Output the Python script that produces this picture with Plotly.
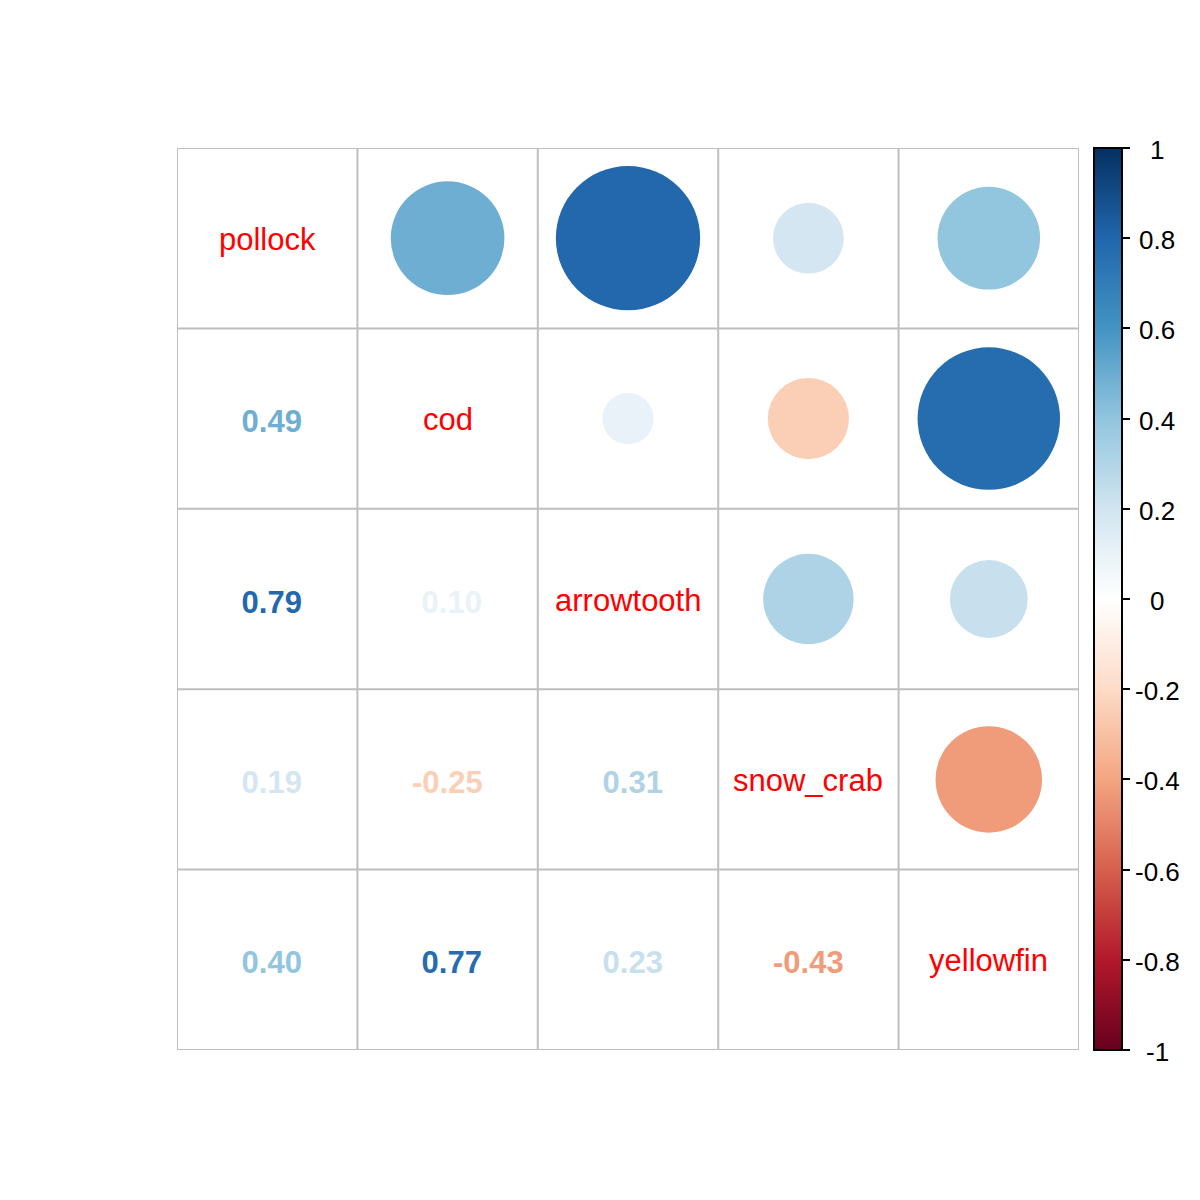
import plotly.graph_objects as go
import numpy as np

species = ["pollock", "cod", "arrowtooth", "snow_crab", "yellowfin"]
corr = [
    [1.00, 0.49, 0.79, 0.19, 0.40],
    [0.49, 1.00, 0.10, -0.25, 0.77],
    [0.79, 0.10, 1.00, 0.31, 0.23],
    [0.19, -0.25, 0.31, 1.00, -0.43],
    [0.40, 0.77, 0.23, -0.43, 1.00],
]
palette = ["#67001F", "#B2182B", "#D6604D", "#F4A582", "#FDDBC7", "#FFFFFF",
           "#D1E5F0", "#92C5DE", "#4393C3", "#2166AC", "#053061"]
cbar_ticks = [-1, -0.8, -0.6, -0.4, -0.2, 0, 0.2, 0.4, 0.6, 0.8, 1]
cbar_labels = ["-1", "-0.8", "-0.6", "-0.4", "-0.2", "0", "0.2", "0.4", "0.6", "0.8", "1"]

def hex2rgb(h):
    h = h.lstrip("#")
    return [int(h[i:i + 2], 16) for i in (0, 2, 4)]

pal_rgb = [hex2rgb(c) for c in palette]

def colour(v):
    t = (v + 1) / 2 * (len(palette) - 1)
    i = min(int(np.floor(t)), len(palette) - 2)
    f = t - i
    a, b = pal_rgb[i], pal_rgb[i + 1]
    r = [round(a[k] + (b[k] - a[k]) * f) for k in range(3)]
    return "rgb(%d,%d,%d)" % tuple(r)

n = len(species)
FONT = "Liberation Sans, Arial, sans-serif"
fig = go.Figure()
shapes = []
annotations = []

# grid
for k in range(n + 1):
    p = k - 0.5
    shapes.append(dict(type="line", xref="x", yref="y", x0=p, x1=p, y0=-0.5, y1=n - 0.5,
                       line=dict(color="#BEBEBE", width=2), layer="below"))
    shapes.append(dict(type="line", xref="x", yref="y", x0=-0.5, x1=n - 0.5, y0=p, y1=p,
                       line=dict(color="#BEBEBE", width=2), layer="below"))

# circles in upper triangle
for i in range(n):
    for j in range(i + 1, n):
        r = 0.9 * np.sqrt(abs(corr[i][j])) / 2
        c = colour(corr[i][j])
        shapes.append(dict(type="circle", xref="x", yref="y", x0=j - r, x1=j + r,
                           y0=i - r, y1=i + r, fillcolor=c, line=dict(width=0)))

# numbers in lower triangle
for i in range(n):
    for j in range(i):
        v = corr[i][j]
        s = "%.2f" % v
        annotations.append(dict(x=j, y=i, xref="x", yref="y",
                                text=("\u00a0" + s) if v >= 0 else s, showarrow=False,
                                xanchor="center", yanchor="middle", yshift=-3,
                                font=dict(family=FONT, size=31, color=colour(v), weight="bold")))

# diagonal names
for k, name in enumerate(species):
    annotations.append(dict(x=k, y=k, xref="x", yref="y", text=name, showarrow=False,
                            xanchor="center", yanchor="middle", yshift=-1,
                            font=dict(family=FONT, size=31, color="#FF0000")))

# colorbar carrier
cs = [[k / (len(palette) - 1), c] for k, c in enumerate(palette)]
fig.add_trace(go.Scatter(x=[0], y=[0], mode="markers",
                         marker=dict(size=0.1, color=[0], cmin=-1, cmax=1, colorscale=cs,
                                     showscale=True,
                                     colorbar=dict(x=(1094 - 177) / 902, xanchor="left", xref="paper",
                                                   y=0.5, yanchor="middle", len=1, lenmode="fraction",
                                                   thickness=28, thicknessmode="pixels",
                                                   outlinecolor="black", outlinewidth=2,
                                                   ticks="outside", ticklen=7, tickwidth=2,
                                                   tickcolor="black", tickvals=cbar_ticks,
                                                   showticklabels=False, xpad=0, ypad=0)),
                         hoverinfo="skip", showlegend=False))

for v, lab in zip(cbar_ticks, cbar_labels):
    annotations.append(dict(x=(1157 - 177) / 902, y=(v + 1) / 2, xref="paper", yref="paper",
                            text=lab, showarrow=False, xanchor="center", yanchor="middle",
                            yshift=-2, font=dict(family=FONT, size=26, color="black")))

fig.update_layout(
    width=1200, height=1200,
    margin=dict(l=169, r=129, t=140, b=158),
    plot_bgcolor="white", paper_bgcolor="white",
    shapes=shapes, annotations=annotations,
    xaxis=dict(range=[-0.5, n - 0.5], visible=False, showgrid=False, zeroline=False),
    yaxis=dict(range=[n - 0.5, -0.5], visible=False, showgrid=False, zeroline=False),
    showlegend=False,
)
fig.write_html("out.html")
